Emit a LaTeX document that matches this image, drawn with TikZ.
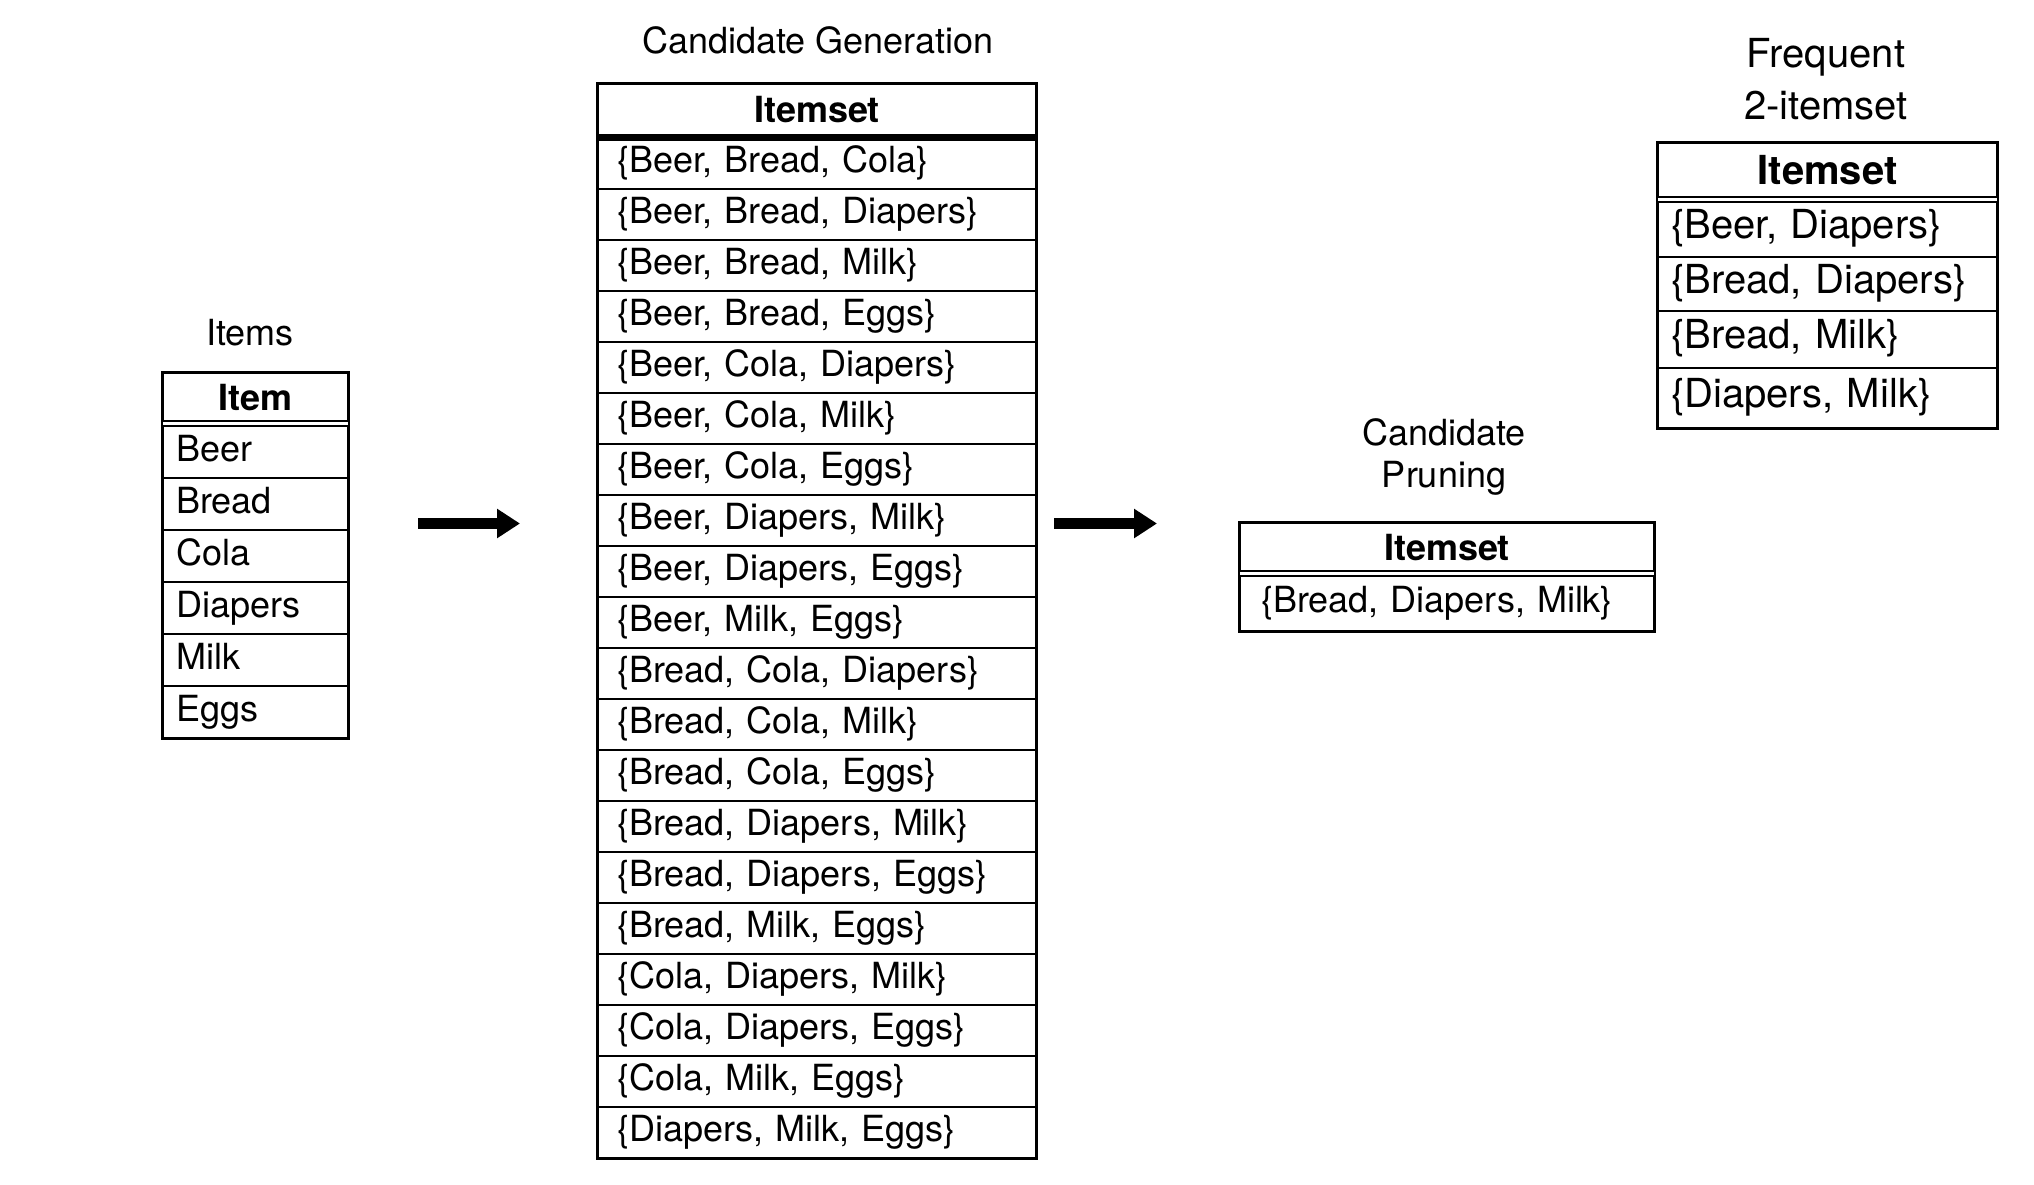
\documentclass[tikz,border=0pt]{standalone}
\usepackage{fontspec}
\setmainfont{TeX Gyre Heros}
\usetikzlibrary{arrows.meta}
\tikzset{
  bw/.style={line width=2.2pt},
  fA/.style={font=\fontsize{36}{43}\selectfont},
  fB/.style={font=\fontsize{40}{48}\selectfont},
  cellbase/.style={draw, bw, anchor=north west, inner ysep=0pt},
  rowcell/.style={cellbase, align=left, text height=26pt, text depth=8pt},
  hdrcell/.style={cellbase, align=center, text height=26pt, text depth=0pt},
  ttl/.style={inner sep=0pt, align=center},
  frame/.style={bw},
  bigarrow/.style={line width=11pt, -{Triangle[length=23pt,width=28pt]}},
}
\begin{document}
\begin{tikzpicture}[x=1pt,y=-1pt]
\useasboundingbox (0,0) rectangle (2034,1184);

% ---------- Items ----------
\node[ttl, fA, anchor=base] (tItems) at (250,345) {Items};
\node[hdrcell, fA, text width=159pt, inner xsep=13pt, minimum height=48pt, font=\fontsize{36}{43}\selectfont\bfseries] (ih) at (162,372) {Item};
\foreach \t [count=\k] in {Beer, Bread, Cola, Diapers, Milk, Eggs}{
  \node[rowcell, fA, text width=159pt, inner xsep=13pt, minimum height=52pt] (ir\k) at (162,{425+(\k-1)*52}) {\t};
}
\draw[frame] (ih.north west) rectangle (ir6.south east);

% ---------- Candidate Generation ----------
\node[ttl, fA, anchor=base] (tGen) at (818,53) {Candidate Generation};
\node[hdrcell, text width=400pt, inner xsep=19pt, minimum height=51pt, font=\fontsize{36}{43}\selectfont\bfseries] (gh) at (597,83) {Itemset};
\foreach \t [count=\k] in {
  {\{Beer, Bread, Cola\}}, {\{Beer, Bread, Diapers\}}, {\{Beer, Bread, Milk\}},
  {\{Beer, Bread, Eggs\}}, {\{Beer, Cola, Diapers\}}, {\{Beer, Cola, Milk\}},
  {\{Beer, Cola, Eggs\}}, {\{Beer, Diapers, Milk\}}, {\{Beer, Diapers, Eggs\}},
  {\{Beer, Milk, Eggs\}}, {\{Bread, Cola, Diapers\}}, {\{Bread, Cola, Milk\}},
  {\{Bread, Cola, Eggs\}}, {\{Bread, Diapers, Milk\}}, {\{Bread, Diapers, Eggs\}},
  {\{Bread, Milk, Eggs\}}, {\{Cola, Diapers, Milk\}}, {\{Cola, Diapers, Eggs\}},
  {\{Cola, Milk, Eggs\}}, {\{Diapers, Milk, Eggs\}}}{
  \node[rowcell, fA, text width=400pt, inner xsep=19pt, minimum height=51pt] (gr\k) at (597,{137+(\k-1)*51}) {\t};
}
\draw[frame] (gh.north west) rectangle (gr20.south east);
\draw[line width=6pt] ([yshift=-1.5pt]gh.south west) -- ([yshift=-1.5pt]gh.south east);

% ---------- Candidate Pruning ----------
\node[ttl, font=\fontsize{36}{42}\selectfont] (tPrune) at (1444,457) {Candidate\\Pruning};
\node[hdrcell, text width=372pt, inner xsep=21pt, minimum height=48pt, font=\fontsize{36}{43}\selectfont\bfseries] (ph) at (1239,522) {Itemset};
\node[rowcell, fA, text width=372pt, inner xsep=21pt, minimum height=55pt] (pr1) at (1239,575) {\{Bread, Diapers, Milk\}};
\draw[frame] (ph.north west) rectangle (pr1.south east);

% ---------- Frequent 2-itemset ----------
\node[ttl, font=\fontsize{40}{52}\selectfont] (tFreq) at (1826,79) {Frequent\\2-itemset};
\node[hdrcell, text width=313pt, inner xsep=13pt, minimum height=54pt, text height=29pt, font=\fontsize{40}{48}\selectfont\bfseries] (fh) at (1657,142) {Itemset};
\node[rowcell, fB, text width=313pt, inner xsep=13pt, minimum height=55pt, text height=28pt, text depth=10pt] (fr1) at (1657,201) {\{Beer, Diapers\}};
\node[rowcell, fB, text width=313pt, inner xsep=13pt, minimum height=54pt, text height=28pt, text depth=10pt] (fr2) at (1657,256) {\{Bread, Diapers\}};
\node[rowcell, fB, text width=313pt, inner xsep=13pt, minimum height=57pt, text height=28pt, text depth=10pt] (fr3) at (1657,310) {\{Bread, Milk\}};
\node[rowcell, fB, text width=313pt, inner xsep=13pt, minimum height=60pt, text height=28pt, text depth=10pt] (fr4) at (1657,367) {\{Diapers, Milk\}};
\draw[frame] (fh.north west) rectangle (fr4.south east);

% ---------- Arrows ----------
\coordinate (a1s) at (418,523.5);
\coordinate (a1e) at (520,523.5);
\coordinate (a2s) at (1054,523.5);
\coordinate (a2e) at (1157,523.5);
\draw[bigarrow] (a1s) -- (a1e);
\draw[bigarrow] (a2s) -- (a2e);
\end{tikzpicture}
\end{document}
